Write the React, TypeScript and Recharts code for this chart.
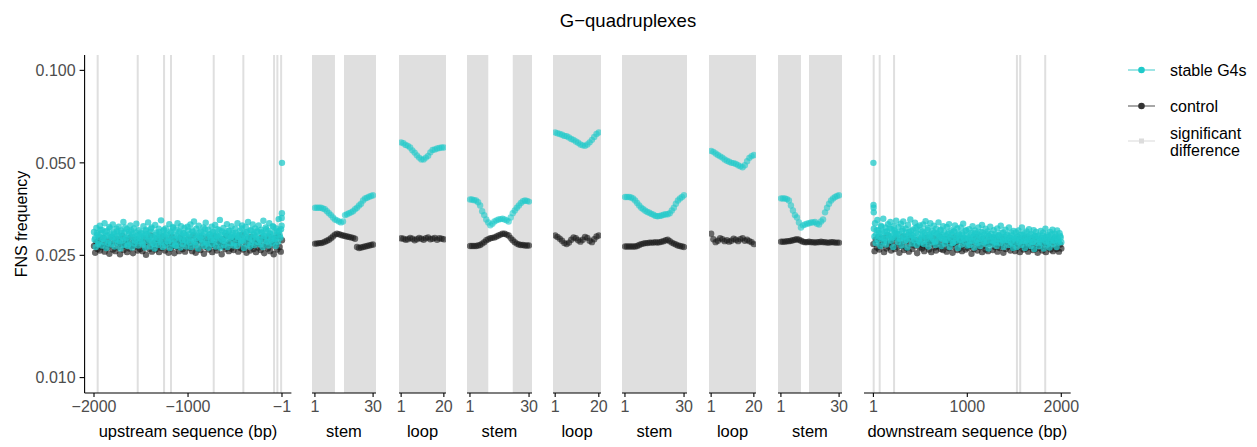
import React from 'react'
import { ScatterChart, Scatter, XAxis, YAxis, ReferenceArea, ReferenceLine } from 'recharts'

const yTicks = [0.01, 0.025, 0.05, 0.1]
const upstreamTicks = [-2000, -1000, -1]
const downstreamTicks = [1, 1000, 2000]
const stemTicks = [1, 30]
const loopTicks = [1, 20]

// flank FNS frequency, in units of 1/10000
const upstreamG4 = [
  298, 281, 285, 266, 307, 295, 291, 272, 276, 288, 312, 303, 295, 269, 302, 284, 283, 276, 318, 298,
  289, 264, 300, 290, 274, 279, 309, 306, 293, 271, 286, 287, 315, 293, 297, 267, 280, 282, 305, 299,
  292, 274, 310, 289, 278, 263, 301, 296, 287, 280, 321, 270, 296, 308, 283, 285, 304, 268, 271, 292,
  299, 277, 313, 301, 288, 265, 294, 286, 306, 273, 279, 297, 317, 283, 290, 269, 302, 291, 284, 278,
  297, 294, 275, 271, 311, 286, 289, 265, 303, 300, 293, 279, 320, 289, 281, 267, 298, 305, 308, 275,
  287, 284, 272, 263, 314, 292, 296, 281, 285, 270, 305, 298, 291, 276, 325, 288, 279, 266, 300, 303,
  288, 269, 306, 291, 294, 278, 277, 284, 316, 264, 299, 296, 283, 273, 309, 307, 292, 282, 270, 268,
  303, 289, 318, 276, 286, 299, 297, 265, 311, 286, 281, 272, 295, 294, 307, 280, 290, 267, 278, 310,
  301, 287, 293, 275, 315, 266, 284, 301, 298, 279, 322, 292, 276, 270, 305, 285, 290, 263, 312, 297,
  287, 283, 299, 274, 281, 290, 308, 268, 295, 304, 319, 277, 273, 288, 303, 265, 292, 293, 286, 281,
  310, 272, 297, 298, 280, 284, 314, 267, 291, 289, 304, 276, 288, 302, 326, 265, 283, 291, 299, 280,
  307, 270, 278, 295, 295, 283, 316, 266, 289, 300, 301, 274, 285, 287, 311, 292, 296, 269, 274, 285,
  305, 296, 290, 268, 318, 282, 287, 291, 300, 274, 279, 306, 313, 279, 294, 264, 283, 288, 309, 297,
  298, 272, 321, 285, 286, 267, 302, 301, 276, 281, 315, 293, 292, 270, 306, 286, 288, 299, 299, 276,
  313, 283, 281, 271, 303, 297, 296, 266, 324, 290, 289, 278, 308, 304, 277, 287, 300, 269, 318, 295,
  293, 280, 285, 274, 311, 309, 297, 284, 282, 268, 306, 292, 299, 277, 328, 300, 290, 285, 304, 312,
]
const upstreamCtrl = [
  268, 255, 276, 262, 281, 259, 271, 266, 285, 257, 273, 264, 279, 253, 270, 287, 261, 275, 258, 283,
  265, 277, 252, 272, 289, 260, 268, 280, 256, 274, 263, 286, 269, 254, 278, 267, 282, 259, 271, 262,
  276, 258, 284, 266, 251, 273, 280, 262, 290, 257, 269, 275, 261, 283, 268, 256, 277, 264, 288, 272,
  259, 281, 270, 255, 276, 263, 287, 268, 254, 279, 266, 273, 258, 285, 271, 262, 280, 257, 274, 267,
  283, 264, 272, 258, 290, 269, 255, 277, 263, 281, 260, 286, 270, 253, 275, 266, 284, 261, 278, 269,
  256, 273, 288, 265, 259, 280, 268, 274, 252, 282, 267, 262, 289, 271, 258, 276, 263, 285, 260, 279,
  270, 284, 257, 275, 264, 291, 261, 278, 266, 255, 283, 272, 259, 287, 268, 262, 280, 256, 274, 265,
  278, 260, 286, 267, 254, 281, 271, 263, 288, 258, 276, 269, 252, 284, 273, 261, 289, 266, 257, 280,
]
const downstreamG4 = [
  305, 288, 318, 274, 292, 302, 326, 281, 301, 295, 287, 268, 312, 309, 296, 285, 329, 277, 283, 298,
  308, 271, 299, 292, 316, 283, 290, 306, 321, 279, 304, 290, 286, 266, 311, 301, 297, 286, 324, 297,
  293, 276, 309, 293, 284, 282, 317, 269, 300, 304, 322, 287, 289, 278, 306, 296, 281, 265, 314, 291,
  298, 284, 327, 300, 291, 273, 303, 289, 285, 280, 319, 307, 296, 270, 310, 294, 279, 283, 313, 275,
  302, 285, 288, 299, 315, 272, 295, 290, 323, 278, 283, 303, 307, 267, 292, 288, 318, 294, 286, 276,
  300, 282, 312, 297, 277, 270, 305, 292, 294, 279, 320, 286, 289, 301, 303, 268, 284, 291, 311, 281,
  297, 273, 281, 289, 309, 280, 293, 296, 316, 266, 287, 284, 302, 292, 274, 275, 299, 299, 313, 278,
  285, 288, 306, 264, 291, 294, 280, 282, 308, 271, 295, 290, 317, 285, 283, 277, 300, 302, 290, 269,
  286, 283, 304, 270, 279, 291, 296, 279, 311, 287, 288, 265, 301, 295, 276, 281, 294, 274, 308, 290,
  283, 268, 298, 286, 314, 297, 281, 276, 292, 284, 305, 272, 278, 293, 299, 263, 289, 288, 310, 280,
  294, 271, 280, 286, 302, 277, 288, 293, 275, 268, 306, 282, 291, 289, 283, 274, 312, 296, 286, 279,
  297, 266, 279, 287, 303, 281, 290, 292, 281, 270, 308, 285, 285, 276, 296, 290, 273, 264, 300, 284,
  283, 279, 297, 266, 288, 288, 301, 275, 279, 283, 292, 270, 308, 292, 284, 278, 295, 264, 277, 286,
  299, 281, 287, 273, 304, 291, 281, 268, 293, 284, 276, 277, 302, 262, 289, 289, 298, 274, 282, 287,
  290, 268, 278, 282, 300, 274, 285, 290, 296, 263, 281, 285, 305, 277, 287, 271, 292, 288, 276, 265,
  298, 281, 284, 293, 303, 272, 280, 279, 294, 286, 288, 266, 301, 283, 279, 275, 295, 289, 286, 276,
]
const downstreamCtrl = [
  272, 258, 281, 265, 287, 261, 276, 269, 284, 256, 278, 263, 290, 267, 274, 259, 282, 270, 262, 286,
  266, 279, 255, 273, 268, 288, 260, 277, 264, 283, 257, 271, 286, 262, 275, 269, 280, 254, 273, 265,
  281, 263, 270, 258, 285, 267, 276, 261, 279, 256, 272, 284, 265, 259, 277, 268, 288, 262, 274, 260,
  269, 283, 257, 275, 264, 280, 271, 255, 286, 266, 273, 260, 278, 263, 284, 258, 270, 276, 261, 282,
  264, 277, 268, 253, 281, 262, 274, 287, 259, 270, 266, 279, 256, 283, 268, 261, 275, 258, 272, 285,
  276, 260, 285, 266, 272, 257, 280, 264, 269, 283, 255, 274, 262, 278, 267, 281, 259, 271, 264, 277,
  258, 273, 265, 282, 256, 276, 268, 261, 285, 263, 270, 257, 279, 266, 274, 260, 283, 262, 269, 255,
  270, 264, 279, 259, 275, 268, 256, 281, 265, 272, 261, 277, 258, 283, 267, 262, 276, 257, 271, 263,
]
// single points sticking out next to the G4 edges
const upstreamG4Edge = [{ x: -1, y: 0.05 }, { x: -2, y: 0.0343 }, { x: -4, y: 0.0331 }]
const downstreamG4Edge = [{ x: 1, y: 0.05 }, { x: 2, y: 0.0365 }, { x: 3, y: 0.0357 }, { x: 5, y: 0.0345 }]

const stem1G4 = [0.0357, 0.0357, 0.0357, 0.0357, 0.0355, 0.0353, 0.0348, 0.0343, 0.0338, 0.0332, 0.0327, 0.0325, 0.0322, 0.0320, 0.0322, 0.0338, 0.0340, 0.0343, 0.0345, 0.0348, 0.0353, 0.0357, 0.0363, 0.0368, 0.0377, 0.0383, 0.0385, 0.0388, 0.0390, 0.0392]
const stem1Ctrl = [0.0273, 0.0273, 0.0274, 0.0274, 0.0275, 0.0277, 0.0279, 0.0281, 0.0284, 0.0288, 0.0292, 0.0294, 0.0293, 0.0291, 0.0290, 0.0289, 0.0288, 0.0287, 0.0286, 0.0285, 0.0283, 0.0266, 0.0264, 0.0265, 0.0266, 0.0267, 0.0268, 0.0269, 0.0270, 0.0271]
const loop1G4 = [0.0583, 0.0579, 0.0572, 0.0568, 0.0561, 0.0549, 0.0540, 0.0529, 0.0520, 0.0513, 0.0513, 0.0520, 0.0527, 0.0541, 0.0551, 0.0553, 0.0557, 0.0559, 0.0561, 0.0561]
const loop1Ctrl = [0.0284, 0.0283, 0.0281, 0.0282, 0.0285, 0.0283, 0.0280, 0.0282, 0.0285, 0.0283, 0.0281, 0.0284, 0.0286, 0.0282, 0.0283, 0.0285, 0.0281, 0.0284, 0.0283, 0.0282]
const stem2G4 = [0.0380, 0.0380, 0.0378, 0.0377, 0.0372, 0.0363, 0.0348, 0.0338, 0.0327, 0.0320, 0.0313, 0.0317, 0.0322, 0.0325, 0.0327, 0.0328, 0.0329, 0.0327, 0.0325, 0.0322, 0.0332, 0.0343, 0.0350, 0.0357, 0.0363, 0.0370, 0.0375, 0.0377, 0.0376, 0.0374]
const stem2Ctrl = [0.0268, 0.0268, 0.0268, 0.0268, 0.0269, 0.0270, 0.0273, 0.0276, 0.0280, 0.0282, 0.0284, 0.0285, 0.0286, 0.0288, 0.0290, 0.0292, 0.0294, 0.0294, 0.0292, 0.0290, 0.0284, 0.0280, 0.0276, 0.0273, 0.0271, 0.0270, 0.0270, 0.0269, 0.0269, 0.0269]
const loop2G4 = [0.0628, 0.0624, 0.0621, 0.0617, 0.0612, 0.0610, 0.0605, 0.0598, 0.0594, 0.0587, 0.0581, 0.0574, 0.0570, 0.0568, 0.0574, 0.0583, 0.0594, 0.0607, 0.0621, 0.0628]
const loop2Ctrl = [0.0290, 0.0287, 0.0283, 0.0279, 0.0274, 0.0272, 0.0275, 0.0281, 0.0286, 0.0284, 0.0280, 0.0277, 0.0281, 0.0287, 0.0285, 0.0279, 0.0276, 0.0282, 0.0288, 0.0290]
const stem3G4 = [0.0387, 0.0387, 0.0387, 0.0386, 0.0383, 0.0377, 0.0370, 0.0363, 0.0357, 0.0353, 0.0349, 0.0346, 0.0344, 0.0341, 0.0339, 0.0336, 0.0335, 0.0336, 0.0337, 0.0339, 0.0340, 0.0340, 0.0343, 0.0350, 0.0357, 0.0368, 0.0377, 0.0383, 0.0387, 0.0392]
const stem3Ctrl = [0.0267, 0.0267, 0.0267, 0.0267, 0.0267, 0.0267, 0.0268, 0.0270, 0.0272, 0.0273, 0.0274, 0.0274, 0.0275, 0.0275, 0.0275, 0.0276, 0.0275, 0.0276, 0.0277, 0.0278, 0.0280, 0.0281, 0.0278, 0.0275, 0.0273, 0.0271, 0.0269, 0.0268, 0.0267, 0.0266]
const loop3G4 = [0.0547, 0.0543, 0.0536, 0.0530, 0.0525, 0.0520, 0.0513, 0.0508, 0.0504, 0.0500, 0.0499, 0.0496, 0.0491, 0.0487, 0.0484, 0.0491, 0.0506, 0.0519, 0.0526, 0.0530]
const loop3Ctrl = [0.0294, 0.0282, 0.0276, 0.0279, 0.0284, 0.0282, 0.0278, 0.0280, 0.0277, 0.0279, 0.0283, 0.0281, 0.0278, 0.0282, 0.0284, 0.0279, 0.0281, 0.0278, 0.0276, 0.0272]
const stem4G4 = [0.0383, 0.0383, 0.0383, 0.0381, 0.0377, 0.0363, 0.0350, 0.0338, 0.0332, 0.0320, 0.0308, 0.0313, 0.0315, 0.0317, 0.0318, 0.0320, 0.0320, 0.0321, 0.0317, 0.0315, 0.0322, 0.0327, 0.0345, 0.0357, 0.0368, 0.0377, 0.0383, 0.0387, 0.0390, 0.0392]
const stem4Ctrl = [0.0277, 0.0277, 0.0277, 0.0278, 0.0278, 0.0279, 0.0280, 0.0281, 0.0282, 0.0281, 0.0279, 0.0277, 0.0276, 0.0276, 0.0277, 0.0276, 0.0276, 0.0275, 0.0276, 0.0276, 0.0277, 0.0276, 0.0276, 0.0275, 0.0275, 0.0276, 0.0276, 0.0275, 0.0275, 0.0275]

// significant-difference positions
const upstreamSig = [-1961, -1535, -1255, -1181, -727, -412, -85, -50, -10]
const downstreamSig = [4, 68, 221, 1528, 1563, 1829]
const stem1Sig = [[-0.45, 11], [15.5, 31.45]]
const loopSig = [[0.05, 20.95]]
const stem2Sig = [[-0.45, 10], [22, 31.45]]
const stem3Sig = [[-0.45, 31.45]]
const stem4Sig = [[-0.45, 11], [15, 31.45]]

const FONT = '"Liberation Sans", Arial, Helvetica, sans-serif'
const CYAN = '#1fcaca'
const DARK = '#1a1a1a'
const BAND = '#dfdfdf'
const Y_DOMAIN = [0.00891, 0.1122]

const flank = (vals: number[], first: number, last: number) =>
  vals.map((v, i) => ({ x: first + (i * (last - first)) / (vals.length - 1), y: v / 10000 }))
const motif = (vals: number[]) => vals.map((v, i) => ({ x: i + 1, y: v }))

const dot = (fill: string, op: number) => (p: any) =>
  <circle cx={p.cx} cy={p.cy} r={3.2} fill={fill} fillOpacity={op} />

const minus = (v: number) => (v < 0 ? '\u2212' + Math.abs(v) : String(v))

interface PanelProps {
  left: number
  width: number
  domain: number[]
  ticks: number[]
  title: string
  g4: { x: number; y: number }[]
  ctrl: { x: number; y: number }[]
  bands?: number[][]
  lines?: number[]
  showY?: boolean
  dense?: boolean
}

function Panel({ left, width, domain, ticks, title, g4, ctrl, bands = [], lines = [], showY, dense }: PanelProps) {
  const yw = showY ? left : 0
  const pad = showY ? 0 : 16
  return (
    <div style={{ position: 'absolute', top: 0, left: left - yw - pad }}>
      <ScatterChart width={yw + pad + width + 16} height={447} margin={{ top: 55, right: 16, bottom: 0, left: pad }}>
        <XAxis
          type="number"
          dataKey="x"
          domain={domain}
          ticks={ticks}
          interval={0}
          allowDataOverflow
          height={54}
          tickSize={4}
          tickMargin={4}
          tickFormatter={minus}
          tick={{ fill: '#4d4d4d', fontSize: 16, fontFamily: FONT }}
          axisLine={{ stroke: '#000', strokeWidth: 1.1 }}
          tickLine={{ stroke: '#000', strokeWidth: 1.1 }}
          label={{ value: title, position: 'insideBottom', offset: 10, fill: '#000', fontSize: 16.5, fontFamily: FONT }}
        />
        <YAxis
          type="number"
          dataKey="y"
          scale="log"
          domain={Y_DOMAIN}
          ticks={yTicks}
          allowDataOverflow
          hide={!showY}
          width={yw}
          tickSize={5}
          tickMargin={4}
          tickFormatter={(v: number) => v.toFixed(3)}
          tick={{ fill: '#4d4d4d', fontSize: 16, fontFamily: FONT }}
          axisLine={{ stroke: '#000', strokeWidth: 1.1 }}
          tickLine={{ stroke: '#000', strokeWidth: 1.1 }}
        />
        {bands.map(([a, b], i) => (
          <ReferenceArea key={'b' + i} x1={a} x2={b} fill={BAND} fillOpacity={1} stroke="none" />
        ))}
        {lines.map((x, i) => (
          <ReferenceLine key={'l' + i} x={x} stroke={BAND} strokeWidth={2} />
        ))}
        <Scatter data={ctrl} shape={dot(DARK, dense ? 0.65 : 0.6)} isAnimationActive={false} />
        <Scatter data={g4} shape={dot(CYAN, dense ? 0.75 : 0.6)} isAnimationActive={false} />
      </ScatterChart>
    </div>
  )
}

export default function App() {
  return (
    <div style={{ position: 'absolute', left: 0, top: 0, width: 1257, height: 447, background: '#fff', fontFamily: FONT }}>
      <Panel left={84.6} width={206.8} domain={[-2100, 99]} ticks={upstreamTicks} title="upstream sequence (bp)"
        g4={[...flank(upstreamG4, -2000, -5), ...upstreamG4Edge]} ctrl={flank(upstreamCtrl, -2000, -1)} lines={upstreamSig} showY dense />
      <Panel left={312} width={64} domain={[-0.45, 31.45]} ticks={stemTicks} title="stem" g4={motif(stem1G4)} ctrl={motif(stem1Ctrl)} bands={stem1Sig} />
      <Panel left={399} width={47} domain={[0.05, 20.95]} ticks={loopTicks} title="loop" g4={motif(loop1G4)} ctrl={motif(loop1Ctrl)} bands={loopSig} />
      <Panel left={467} width={65} domain={[-0.45, 31.45]} ticks={stemTicks} title="stem" g4={motif(stem2G4)} ctrl={motif(stem2Ctrl)} bands={stem2Sig} />
      <Panel left={553} width={48} domain={[0.05, 20.95]} ticks={loopTicks} title="loop" g4={motif(loop2G4)} ctrl={motif(loop2Ctrl)} bands={loopSig} />
      <Panel left={622} width={65} domain={[-0.45, 31.45]} ticks={stemTicks} title="stem" g4={motif(stem3G4)} ctrl={motif(stem3Ctrl)} bands={stem3Sig} />
      <Panel left={709} width={47} domain={[0.05, 20.95]} ticks={loopTicks} title="loop" g4={motif(loop3G4)} ctrl={motif(loop3Ctrl)} bands={loopSig} />
      <Panel left={778} width={64} domain={[-0.45, 31.45]} ticks={stemTicks} title="stem" g4={motif(stem4G4)} ctrl={motif(stem4Ctrl)} bands={stem4Sig} />
      <Panel left={863.6} width={206.7} domain={[-99, 2100]} ticks={downstreamTicks} title="downstream sequence (bp)"
        g4={[...flank(downstreamG4, 6, 2000), ...downstreamG4Edge]} ctrl={flank(downstreamCtrl, 1, 2000)} lines={downstreamSig} dense />

      <svg width={1257} height={447} style={{ position: 'absolute', left: 0, top: 0, pointerEvents: 'none' }} fontFamily={FONT}>
        <text x={628} y={27} textAnchor="middle" fontSize={18.5} fill="#000">G−quadruplexes</text>
        <text x={21} y={224} textAnchor="middle" dominantBaseline="central" fontSize={16} fill="#000" transform="rotate(-90 21 224)">FNS frequency</text>
        <line x1={1128} x2={1155} y1={70} y2={70} stroke="#7fdcdc" strokeWidth={1.5} />
        <circle cx={1141.5} cy={70} r={3.3} fill={CYAN} />
        <text x={1170} y={76} fontSize={16} fill="#000">stable G4s</text>
        <line x1={1128} x2={1155} y1={106} y2={106} stroke="#8a8a8a" strokeWidth={1.5} />
        <circle cx={1141.5} cy={106} r={3.3} fill="#333" />
        <text x={1170} y={112} fontSize={16} fill="#000">control</text>
        <line x1={1128} x2={1155} y1={141} y2={141} stroke="#e6e6e6" strokeWidth={1.5} />
        <rect x={1139} y={138.5} width={5} height={5} fill="#dcdcdc" />
        <text x={1170} y={139} fontSize={16} fill="#000">significant</text>
        <text x={1170} y={156} fontSize={16} fill="#000">difference</text>
      </svg>
    </div>
  )
}
